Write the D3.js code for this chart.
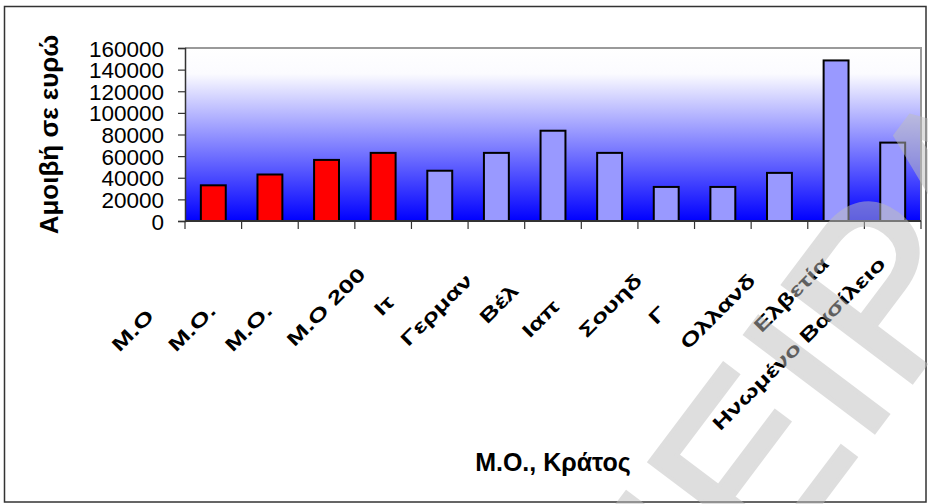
<!DOCTYPE html>
<html><head><meta charset="utf-8">
<script src="https://cdn.jsdelivr.net/npm/d3@7"></script>
<style>html,body{margin:0;padding:0;background:#fff;overflow:hidden}</style>
</head><body>
<svg id="chart" width="928" height="504"></svg>
<script>
// ---- data ----
const categories = ["Μ.Ο. 2000", "Μ.Ο. 2001", "Μ.Ο. 2002", "Μ.Ο 2003", "Ιταλία", "Γερμανία", "Βέλγιο", "Ιαπωνία", "Σουηδία", "Γαλλία", "Ολλανδία", "Ελβετία", "Ηνωμένο Βασίλειο"];
const tickLabels = ["Μ.Ο", "Μ.Ο.", "Μ.Ο.", "Μ.Ο 200", "Ιτ", "Γερμαν", "Βέλ", "Ιαπ", "Σουηδ", "Γ", "Ολλανδ", "Ελβετία", "Ηνωμένο Βασίλειο"];
const groups = ["Μ.Ο.", "Μ.Ο.", "Μ.Ο.", "Μ.Ο.", "Κράτος", "Κράτος", "Κράτος", "Κράτος", "Κράτος", "Κράτος", "Κράτος", "Κράτος", "Κράτος"];
const values = [33000, 43000, 56500, 63000, 46500, 63000, 83500, 63000, 31500, 31500, 44500, 148500, 72500];
const yTicks = [0, 20000, 40000, 60000, 80000, 100000, 120000, 140000, 160000];
const yTitle = "Αμοιβή σε ευρώ";
const xTitle = "Μ.Ο., Κράτος";
const watermark = "ΠΕΙΡΑΙΑ";

// ---- layout ----
const plot = {left: 185, right: 921, top: 48, bottom: 221};
const svg = d3.select("#chart");
const FONT = "'Liberation Sans', Arial, sans-serif";

// outer frame
svg.append("rect").attr("x", 4.5).attr("y", 6.5).attr("width", 921.5).attr("height", 495.5)
  .attr("fill", "#fff").attr("stroke", "#333").attr("stroke-width", 1.5);

const x = d3.scaleBand().domain(categories).range([plot.left, plot.right])
  .paddingInner(0.56).paddingOuter(0.28);
const y = d3.scaleLinear().domain([0, 160000]).range([plot.bottom, plot.top]);
const color = d3.scaleOrdinal().domain(["Μ.Ο.", "Κράτος"]).range(["#ff0000", "#9999ff"]);

// gradient background
const defs = svg.append("defs");
const grad = defs.append("linearGradient").attr("id", "bg").attr("x1", 0).attr("y1", 0).attr("x2", 0).attr("y2", 1);
grad.append("stop").attr("offset", "0%").attr("stop-color", "#ffffff");
grad.append("stop").attr("offset", "15%").attr("stop-color", "#fbfbff");
grad.append("stop").attr("offset", "100%").attr("stop-color", "#0000ff");
svg.append("rect").attr("x", plot.left).attr("y", plot.top)
  .attr("width", plot.right - plot.left).attr("height", plot.bottom - plot.top)
  .attr("fill", "url(#bg)");
svg.append("path").attr("d", `M${plot.left},${plot.top}H${plot.right}V${plot.bottom}`)
  .attr("fill", "none").attr("stroke", "#9a9a9a").attr("stroke-width", 2);

// bars
svg.append("g").selectAll("rect").data(categories).join("rect")
  .attr("x", d => x(d)).attr("width", x.bandwidth())
  .attr("y", (d, i) => y(values[i])).attr("height", (d, i) => y(0) - y(values[i]))
  .attr("fill", (d, i) => color(groups[i]))
  .attr("stroke", "#000").attr("stroke-width", 2);

// y axis
const yAxis = d3.axisLeft(y).tickValues(yTicks).tickFormat(d3.format("d")).tickSize(7).tickPadding(14);
const gy = svg.append("g").attr("transform", `translate(${plot.left},0)`).call(yAxis);
gy.select(".domain").attr("stroke", "#333").attr("stroke-width", 1.5);
gy.selectAll(".tick line").attr("stroke", "#333").attr("stroke-width", 1.2);
gy.selectAll(".tick text").attr("font-family", FONT).attr("font-size", 22.5).attr("fill", "#000")
  .attr("dy", "0.36em");

// x axis (ticks between categories)
const step = x.step();
const xBoundaries = d3.range(categories.length + 1).map(i => plot.left + i * step);
const gx = svg.append("g");
gx.append("line").attr("x1", plot.left).attr("x2", plot.right).attr("y1", plot.bottom).attr("y2", plot.bottom)
  .attr("stroke", "#333").attr("stroke-width", 2);
gx.selectAll("line.t").data(xBoundaries).join("line").attr("class", "t")
  .attr("x1", d => d).attr("x2", d => d).attr("y1", plot.bottom).attr("y2", plot.bottom + 8)
  .attr("stroke", "#333").attr("stroke-width", 1.2);

// category labels: placed as the full name ending at the tick, only the visible part drawn
const labels = svg.append("g").selectAll("text").data(categories).join("text")
  .attr("transform", d => `translate(${x(d) + x.bandwidth() / 2 - 6},265) rotate(-45) scale(1.4,1)`)
  .attr("font-family", FONT).attr("font-weight", "bold").attr("font-size", 19)
  .attr("fill", "#000").attr("text-anchor", "end").text(d => d);
labels.each(function(d, i) {
  const L = this.getComputedTextLength();
  d3.select(this).attr("text-anchor", "start").attr("x", -L).text(tickLabels[i]);
});

// titles
svg.append("text").attr("transform", `translate(58,${(plot.top + plot.bottom) / 2}) rotate(-90)`)
  .attr("text-anchor", "middle").attr("font-family", FONT).attr("font-weight", "bold")
  .attr("font-size", 26).text(yTitle);
svg.append("text").attr("x", (plot.left + plot.right) / 2).attr("y", 471)
  .attr("text-anchor", "middle").attr("font-family", FONT).attr("font-weight", "bold")
  .attr("font-size", 25).text(xTitle);

// watermark
svg.append("g").attr("opacity", 0.5)
  .append("text").attr("transform", "translate(665,710) rotate(-53)")
  .attr("font-family", FONT).attr("font-size", 235)
  .attr("fill", "#bebebe").attr("stroke", "#bebebe").attr("stroke-width", 4)
  .text(watermark);
</script>
</body></html>
